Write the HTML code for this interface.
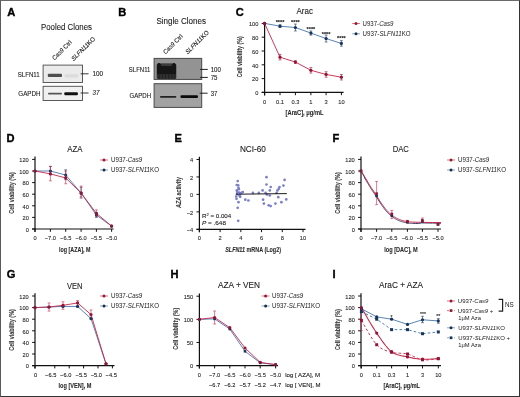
<!DOCTYPE html>
<html><head><meta charset="utf-8"><style>
html,body{margin:0;padding:0;background:#fff;}
body{width:520px;height:397px;overflow:hidden;position:relative;}
.fr{position:absolute;left:0;top:0;width:520px;height:397px;box-sizing:border-box;border-top:1px solid #6a6a6a;border-left:1px solid #5a5a5a;border-right:1px solid #333;border-bottom:1px solid #333;}
svg{position:absolute;left:0;top:0;filter:blur(0.35px);}
.ns{stroke:none !important;}
svg text{font-family:"Liberation Sans", sans-serif;stroke-width:0.1px;}
</style></head><body>
<svg width="520" height="397" viewBox="0 0 520 397">
<text x="0" y="0" font-size="10.3" font-weight="bold" fill="#000" style="stroke:#000;stroke-width:0.35px" transform="translate(7.2 15.7) scale(1.08 1)">A</text>
<text x="66.50" y="30.30" font-size="8.5" text-anchor="middle" textLength="51" lengthAdjust="spacingAndGlyphs" fill="#1a1a1a" stroke="#1a1a1a">Pooled Clones</text>
<text x="54.50" y="60.50" font-size="6.2" textLength="25" lengthAdjust="spacingAndGlyphs" fill="#1a1a1a" stroke="#1a1a1a" transform="rotate(-45 54.50 60.50)"><tspan font-style="italic">Cas9</tspan> Ctrl</text>
<text x="73.70" y="61.20" font-size="6.2" textLength="31" lengthAdjust="spacingAndGlyphs" fill="#1a1a1a" stroke="#1a1a1a" transform="rotate(-45 73.70 61.20)"><tspan font-style="italic">SLFN11</tspan>KO</text>
<rect x="43.10" y="65.10" width="39.40" height="17.40" fill="#ebebeb" stroke="#4a4a4a" stroke-width="0.9"/>
<rect x="47.80" y="73.70" width="14.20" height="3.30" fill="#4e4e4e" stroke="none" stroke-width="1" rx="1"/>
<rect x="64.60" y="74.20" width="13.60" height="3.20" fill="#dcdcdc" stroke="none" stroke-width="1" rx="1"/>
<rect x="43.10" y="86.30" width="39.40" height="14.20" fill="#f0f0f0" stroke="#4a4a4a" stroke-width="0.9"/>
<rect x="48.00" y="92.70" width="14.00" height="1.90" fill="#555" stroke="none" stroke-width="1" rx="0.8"/>
<rect x="64.30" y="92.20" width="13.60" height="3.00" fill="#111" stroke="none" stroke-width="1" rx="1"/>
<text x="39.70" y="77.10" font-size="6.6" text-anchor="end" textLength="22" lengthAdjust="spacingAndGlyphs" fill="#1a1a1a" stroke="#1a1a1a">SLFN11</text>
<text x="40.50" y="95.60" font-size="6.4" text-anchor="end" textLength="22.2" lengthAdjust="spacingAndGlyphs" fill="#1a1a1a" stroke="#1a1a1a">GAPDH</text>
<line x1="80.60" y1="73.80" x2="88.60" y2="73.80" stroke="#222" stroke-width="0.9"/>
<text x="92.40" y="76.20" font-size="6.3" textLength="10.6" lengthAdjust="spacingAndGlyphs" fill="#1a1a1a" stroke="#1a1a1a">100</text>
<line x1="80.60" y1="93.00" x2="88.60" y2="93.00" stroke="#222" stroke-width="0.9"/>
<text x="92.60" y="95.40" font-size="6.3" textLength="7" lengthAdjust="spacingAndGlyphs" font-style="italic" fill="#1a1a1a" stroke="#1a1a1a">37</text>
<text x="0" y="0" font-size="10.3" font-weight="bold" fill="#000" style="stroke:#000;stroke-width:0.35px" transform="translate(118.2 15.7) scale(1.08 1)">B</text>
<text x="181.20" y="24.00" font-size="8.5" text-anchor="middle" textLength="49.6" lengthAdjust="spacingAndGlyphs" fill="#1a1a1a" stroke="#1a1a1a">Single Clones</text>
<text x="165.50" y="54.50" font-size="6.2" textLength="25" lengthAdjust="spacingAndGlyphs" fill="#1a1a1a" stroke="#1a1a1a" transform="rotate(-45 165.50 54.50)"><tspan font-style="italic">Cas9</tspan> Ctrl</text>
<text x="187.70" y="54.60" font-size="6.2" textLength="30.8" lengthAdjust="spacingAndGlyphs" fill="#1a1a1a" stroke="#1a1a1a" transform="rotate(-45 187.70 54.60)"><tspan font-style="italic">SLFN11</tspan>KO</text>
<rect x="154.10" y="58.40" width="47.60" height="21.00" fill="#939393" stroke="#4a4a4a" stroke-width="1.0"/>
<defs><filter id="fb" x="-20%" y="-20%" width="140%" height="140%"><feGaussianBlur stdDeviation="0.7"/></filter></defs>
<g filter="url(#fb)">
<rect x="156.70" y="63.40" width="19.60" height="15.60" fill="#333" stroke="none" stroke-width="1" rx="1.5"/>
<rect x="157.00" y="66.00" width="19.00" height="8.20" fill="#161616" stroke="none" stroke-width="1"/>
<ellipse cx="159.1" cy="67" rx="2.1" ry="3.9" fill="#161616"/>
<ellipse cx="173.9" cy="67" rx="2.1" ry="3.9" fill="#161616"/>
<rect x="161.40" y="63.70" width="10.20" height="2.30" fill="#3a3a3a" stroke="none" stroke-width="1"/>
<line x1="159.20" y1="74.50" x2="159.20" y2="78.80" stroke="#1c1c1c" stroke-width="0.9"/>
<line x1="162.40" y1="74.50" x2="162.40" y2="78.80" stroke="#1c1c1c" stroke-width="0.9"/>
<line x1="165.60" y1="74.50" x2="165.60" y2="78.80" stroke="#1c1c1c" stroke-width="0.9"/>
<line x1="168.80" y1="74.50" x2="168.80" y2="78.80" stroke="#1c1c1c" stroke-width="0.9"/>
<line x1="172.00" y1="74.50" x2="172.00" y2="78.80" stroke="#1c1c1c" stroke-width="0.9"/>
<line x1="174.80" y1="74.50" x2="174.80" y2="78.80" stroke="#1c1c1c" stroke-width="0.9"/>
</g>
<rect x="154.10" y="83.70" width="47.60" height="23.70" fill="#a2a2a2" stroke="#4a4a4a" stroke-width="1.0"/>
<rect x="160.00" y="96.10" width="16.30" height="1.60" fill="#222" stroke="none" stroke-width="1" rx="0.7"/>
<rect x="180.40" y="95.20" width="17.60" height="2.80" fill="#0a0a0a" stroke="none" stroke-width="1" rx="1.2"/>
<text x="150.40" y="72.20" font-size="6.4" text-anchor="end" textLength="21.6" lengthAdjust="spacingAndGlyphs" fill="#1a1a1a" stroke="#1a1a1a">SLFN11</text>
<text x="151.00" y="98.10" font-size="6.4" text-anchor="end" textLength="21.5" lengthAdjust="spacingAndGlyphs" fill="#1a1a1a" stroke="#1a1a1a">GAPDH</text>
<line x1="200.00" y1="69.40" x2="207.80" y2="69.40" stroke="#222" stroke-width="1.0"/>
<text x="210.70" y="71.80" font-size="6.3" textLength="10.2" lengthAdjust="spacingAndGlyphs" fill="#1a1a1a" stroke="#1a1a1a">100</text>
<line x1="200.00" y1="77.40" x2="207.80" y2="77.40" stroke="#222" stroke-width="1.0"/>
<text x="210.70" y="79.80" font-size="6.3" textLength="6.8" lengthAdjust="spacingAndGlyphs" fill="#1a1a1a" stroke="#1a1a1a">75</text>
<line x1="199.70" y1="93.20" x2="207.60" y2="93.20" stroke="#222" stroke-width="1.0"/>
<text x="210.70" y="95.60" font-size="6.3" textLength="6.6" lengthAdjust="spacingAndGlyphs" fill="#1a1a1a" stroke="#1a1a1a">37</text>
<text x="0" y="0" font-size="10.3" font-weight="bold" fill="#000" style="stroke:#000;stroke-width:0.35px" transform="translate(235.7 15.7) scale(1.08 1)">C</text>
<text x="304.70" y="14.20" font-size="8.5" text-anchor="middle" textLength="16.4" lengthAdjust="spacingAndGlyphs" fill="#1a1a1a" stroke="#1a1a1a">Arac</text>
<line x1="264.60" y1="23.10" x2="264.60" y2="95.40" stroke="#111" stroke-width="1.2"/>
<line x1="261.70" y1="92.40" x2="264.60" y2="92.40" stroke="#111" stroke-width="1.0"/>
<text x="258.40" y="95.10" font-size="5.7" text-anchor="end" fill="#2a2a2a" stroke="#2a2a2a">0</text>
<line x1="261.70" y1="78.60" x2="264.60" y2="78.60" stroke="#111" stroke-width="1.0"/>
<text x="258.40" y="81.30" font-size="5.7" text-anchor="end" fill="#2a2a2a" stroke="#2a2a2a">20</text>
<line x1="261.70" y1="64.80" x2="264.60" y2="64.80" stroke="#111" stroke-width="1.0"/>
<text x="258.40" y="67.50" font-size="5.7" text-anchor="end" fill="#2a2a2a" stroke="#2a2a2a">40</text>
<line x1="261.70" y1="51.00" x2="264.60" y2="51.00" stroke="#111" stroke-width="1.0"/>
<text x="258.40" y="53.70" font-size="5.7" text-anchor="end" fill="#2a2a2a" stroke="#2a2a2a">60</text>
<line x1="261.70" y1="37.20" x2="264.60" y2="37.20" stroke="#111" stroke-width="1.0"/>
<text x="258.40" y="39.90" font-size="5.7" text-anchor="end" fill="#2a2a2a" stroke="#2a2a2a">80</text>
<line x1="261.70" y1="23.40" x2="264.60" y2="23.40" stroke="#111" stroke-width="1.0"/>
<text x="258.40" y="26.10" font-size="5.7" text-anchor="end" fill="#2a2a2a" stroke="#2a2a2a">100</text>
<line x1="261.70" y1="92.40" x2="343.60" y2="92.40" stroke="#111" stroke-width="1.2"/>
<line x1="264.60" y1="92.40" x2="264.60" y2="95.20" stroke="#111" stroke-width="1.0"/>
<line x1="280.00" y1="92.40" x2="280.00" y2="95.20" stroke="#111" stroke-width="1.0"/>
<line x1="295.40" y1="92.40" x2="295.40" y2="95.20" stroke="#111" stroke-width="1.0"/>
<line x1="310.90" y1="92.40" x2="310.90" y2="95.20" stroke="#111" stroke-width="1.0"/>
<line x1="326.10" y1="92.40" x2="326.10" y2="95.20" stroke="#111" stroke-width="1.0"/>
<line x1="341.40" y1="92.40" x2="341.40" y2="95.20" stroke="#111" stroke-width="1.0"/>
<text x="264.60" y="103.80" font-size="5.7" text-anchor="middle" fill="#2a2a2a" stroke="#2a2a2a">0</text>
<text x="280.00" y="103.80" font-size="5.7" text-anchor="middle" fill="#2a2a2a" stroke="#2a2a2a">0.1</text>
<text x="295.40" y="103.80" font-size="5.7" text-anchor="middle" fill="#2a2a2a" stroke="#2a2a2a">0.3</text>
<text x="310.90" y="103.80" font-size="5.7" text-anchor="middle" fill="#2a2a2a" stroke="#2a2a2a">1</text>
<text x="326.10" y="103.80" font-size="5.7" text-anchor="middle" fill="#2a2a2a" stroke="#2a2a2a">3</text>
<text x="341.40" y="103.80" font-size="5.7" text-anchor="middle" fill="#2a2a2a" stroke="#2a2a2a">10</text>
<text x="285.60" y="114.60" font-size="7.0" textLength="37.9" lengthAdjust="spacingAndGlyphs" font-weight="bold" fill="#2a2a2a" stroke="#2a2a2a">[AraC], μg/mL</text>
<text x="242.00" y="56.80" font-size="7.4" text-anchor="middle" textLength="41" lengthAdjust="spacingAndGlyphs" font-weight="bold" fill="#3a3a3a" stroke="#3a3a3a" transform="rotate(-90 242.00 56.80)">Cell viability (%)</text>
<polyline points="264.60,23.40 280.00,26.16 295.40,27.54 310.90,33.06 326.10,38.58 341.40,43.41" fill="none" stroke="#4676ab" stroke-width="0.9"/>
<polyline points="264.60,23.40 280.00,57.21 295.40,62.04 310.90,70.32 326.10,74.46 341.40,77.22" fill="none" stroke="#c5264a" stroke-width="0.9"/>
<circle cx="264.60" cy="23.40" r="1.6" fill="#18355c"/>
<line x1="280.00" y1="24.78" x2="280.00" y2="27.54" stroke="#18355c" stroke-width="0.6"/>
<line x1="278.60" y1="24.78" x2="281.40" y2="24.78" stroke="#18355c" stroke-width="0.6"/>
<line x1="278.60" y1="27.54" x2="281.40" y2="27.54" stroke="#18355c" stroke-width="0.6"/>
<circle cx="280.00" cy="26.16" r="1.6" fill="#18355c"/>
<line x1="295.40" y1="24.09" x2="295.40" y2="30.99" stroke="#18355c" stroke-width="0.6"/>
<line x1="294.00" y1="24.09" x2="296.80" y2="24.09" stroke="#18355c" stroke-width="0.6"/>
<line x1="294.00" y1="30.99" x2="296.80" y2="30.99" stroke="#18355c" stroke-width="0.6"/>
<circle cx="295.40" cy="27.54" r="1.6" fill="#18355c"/>
<line x1="310.90" y1="30.99" x2="310.90" y2="35.13" stroke="#18355c" stroke-width="0.6"/>
<line x1="309.50" y1="30.99" x2="312.30" y2="30.99" stroke="#18355c" stroke-width="0.6"/>
<line x1="309.50" y1="35.13" x2="312.30" y2="35.13" stroke="#18355c" stroke-width="0.6"/>
<circle cx="310.90" cy="33.06" r="1.6" fill="#18355c"/>
<line x1="326.10" y1="35.13" x2="326.10" y2="42.03" stroke="#18355c" stroke-width="0.6"/>
<line x1="324.70" y1="35.13" x2="327.50" y2="35.13" stroke="#18355c" stroke-width="0.6"/>
<line x1="324.70" y1="42.03" x2="327.50" y2="42.03" stroke="#18355c" stroke-width="0.6"/>
<circle cx="326.10" cy="38.58" r="1.6" fill="#18355c"/>
<line x1="341.40" y1="40.65" x2="341.40" y2="46.17" stroke="#18355c" stroke-width="0.6"/>
<line x1="340.00" y1="40.65" x2="342.80" y2="40.65" stroke="#18355c" stroke-width="0.6"/>
<line x1="340.00" y1="46.17" x2="342.80" y2="46.17" stroke="#18355c" stroke-width="0.6"/>
<circle cx="341.40" cy="43.41" r="1.6" fill="#18355c"/>
<circle cx="264.60" cy="23.40" r="1.6" fill="#931436"/>
<line x1="280.00" y1="54.45" x2="280.00" y2="59.97" stroke="#931436" stroke-width="0.6"/>
<line x1="278.60" y1="54.45" x2="281.40" y2="54.45" stroke="#931436" stroke-width="0.6"/>
<line x1="278.60" y1="59.97" x2="281.40" y2="59.97" stroke="#931436" stroke-width="0.6"/>
<circle cx="280.00" cy="57.21" r="1.6" fill="#931436"/>
<line x1="295.40" y1="60.66" x2="295.40" y2="63.42" stroke="#931436" stroke-width="0.6"/>
<line x1="294.00" y1="60.66" x2="296.80" y2="60.66" stroke="#931436" stroke-width="0.6"/>
<line x1="294.00" y1="63.42" x2="296.80" y2="63.42" stroke="#931436" stroke-width="0.6"/>
<circle cx="295.40" cy="62.04" r="1.6" fill="#931436"/>
<line x1="310.90" y1="67.56" x2="310.90" y2="73.08" stroke="#931436" stroke-width="0.6"/>
<line x1="309.50" y1="67.56" x2="312.30" y2="67.56" stroke="#931436" stroke-width="0.6"/>
<line x1="309.50" y1="73.08" x2="312.30" y2="73.08" stroke="#931436" stroke-width="0.6"/>
<circle cx="310.90" cy="70.32" r="1.6" fill="#931436"/>
<line x1="326.10" y1="71.70" x2="326.10" y2="77.22" stroke="#931436" stroke-width="0.6"/>
<line x1="324.70" y1="71.70" x2="327.50" y2="71.70" stroke="#931436" stroke-width="0.6"/>
<line x1="324.70" y1="77.22" x2="327.50" y2="77.22" stroke="#931436" stroke-width="0.6"/>
<circle cx="326.10" cy="74.46" r="1.6" fill="#931436"/>
<line x1="341.40" y1="74.46" x2="341.40" y2="79.98" stroke="#931436" stroke-width="0.6"/>
<line x1="340.00" y1="74.46" x2="342.80" y2="74.46" stroke="#931436" stroke-width="0.6"/>
<line x1="340.00" y1="79.98" x2="342.80" y2="79.98" stroke="#931436" stroke-width="0.6"/>
<circle cx="341.40" cy="77.22" r="1.6" fill="#931436"/>
<text x="280.00" y="24.30" font-size="5.6" text-anchor="middle" textLength="8.6" lengthAdjust="spacingAndGlyphs" font-weight="bold" fill="#1a1a1a" stroke="#1a1a1a">****</text>
<text x="295.40" y="24.00" font-size="5.6" text-anchor="middle" textLength="8.6" lengthAdjust="spacingAndGlyphs" font-weight="bold" fill="#1a1a1a" stroke="#1a1a1a">****</text>
<text x="310.90" y="30.50" font-size="5.6" text-anchor="middle" textLength="8.6" lengthAdjust="spacingAndGlyphs" font-weight="bold" fill="#1a1a1a" stroke="#1a1a1a">****</text>
<text x="326.10" y="35.60" font-size="5.6" text-anchor="middle" textLength="8.6" lengthAdjust="spacingAndGlyphs" font-weight="bold" fill="#1a1a1a" stroke="#1a1a1a">****</text>
<text x="341.40" y="40.40" font-size="5.6" text-anchor="middle" textLength="8.6" lengthAdjust="spacingAndGlyphs" font-weight="bold" fill="#1a1a1a" stroke="#1a1a1a">****</text>
<line x1="352.20" y1="23.50" x2="360.00" y2="23.50" stroke="#d8687c" stroke-width="0.9"/>
<circle cx="356.00" cy="23.50" r="1.5" fill="#9a1834"/>
<text x="362.60" y="26.00" font-size="6.3" textLength="30.7" lengthAdjust="spacingAndGlyphs" fill="#1a1a1a" stroke="#1a1a1a" class="ns">U937-<tspan font-style="italic">Cas9</tspan></text>
<line x1="352.20" y1="33.80" x2="360.00" y2="33.80" stroke="#7d98b8" stroke-width="0.9"/>
<circle cx="356.00" cy="33.80" r="1.5" fill="#16304f"/>
<text x="362.60" y="36.00" font-size="6.3" textLength="48" lengthAdjust="spacingAndGlyphs" fill="#1a1a1a" stroke="#1a1a1a" class="ns">U937-<tspan font-style="italic">SLFN11</tspan>KO</text>
<text x="0" y="0" font-size="10.3" font-weight="bold" fill="#000" style="stroke:#000;stroke-width:0.35px" transform="translate(6.5 141.6) scale(1.08 1)">D</text>
<text x="74.80" y="151.80" font-size="8.5" text-anchor="middle" textLength="15.2" lengthAdjust="spacingAndGlyphs" fill="#1a1a1a" stroke="#1a1a1a">AZA</text>
<line x1="35.00" y1="156.60" x2="35.00" y2="232.00" stroke="#111" stroke-width="1.2"/>
<line x1="32.10" y1="229.00" x2="35.00" y2="229.00" stroke="#111" stroke-width="1.0"/>
<text x="28.80" y="231.70" font-size="5.7" text-anchor="end" fill="#2a2a2a" stroke="#2a2a2a">0</text>
<line x1="32.10" y1="217.40" x2="35.00" y2="217.40" stroke="#111" stroke-width="1.0"/>
<text x="28.80" y="220.10" font-size="5.7" text-anchor="end" fill="#2a2a2a" stroke="#2a2a2a">20</text>
<line x1="32.10" y1="205.80" x2="35.00" y2="205.80" stroke="#111" stroke-width="1.0"/>
<text x="28.80" y="208.50" font-size="5.7" text-anchor="end" fill="#2a2a2a" stroke="#2a2a2a">40</text>
<line x1="32.10" y1="194.20" x2="35.00" y2="194.20" stroke="#111" stroke-width="1.0"/>
<text x="28.80" y="196.90" font-size="5.7" text-anchor="end" fill="#2a2a2a" stroke="#2a2a2a">60</text>
<line x1="32.10" y1="182.60" x2="35.00" y2="182.60" stroke="#111" stroke-width="1.0"/>
<text x="28.80" y="185.30" font-size="5.7" text-anchor="end" fill="#2a2a2a" stroke="#2a2a2a">80</text>
<line x1="32.10" y1="171.00" x2="35.00" y2="171.00" stroke="#111" stroke-width="1.0"/>
<text x="28.80" y="173.70" font-size="5.7" text-anchor="end" fill="#2a2a2a" stroke="#2a2a2a">100</text>
<line x1="32.10" y1="159.40" x2="35.00" y2="159.40" stroke="#111" stroke-width="1.0"/>
<text x="28.80" y="162.10" font-size="5.7" text-anchor="end" fill="#2a2a2a" stroke="#2a2a2a">120</text>
<line x1="32.10" y1="229.00" x2="113.60" y2="229.00" stroke="#111" stroke-width="1.2"/>
<line x1="35.00" y1="229.00" x2="35.00" y2="231.80" stroke="#111" stroke-width="1.0"/>
<line x1="50.40" y1="229.00" x2="50.40" y2="231.80" stroke="#111" stroke-width="1.0"/>
<line x1="65.70" y1="229.00" x2="65.70" y2="231.80" stroke="#111" stroke-width="1.0"/>
<line x1="81.10" y1="229.00" x2="81.10" y2="231.80" stroke="#111" stroke-width="1.0"/>
<line x1="96.40" y1="229.00" x2="96.40" y2="231.80" stroke="#111" stroke-width="1.0"/>
<line x1="111.60" y1="229.00" x2="111.60" y2="231.80" stroke="#111" stroke-width="1.0"/>
<text x="35.00" y="240.20" font-size="5.7" text-anchor="middle" fill="#2a2a2a" stroke="#2a2a2a">0</text>
<text x="50.40" y="240.20" font-size="5.7" text-anchor="middle" fill="#2a2a2a" stroke="#2a2a2a">−7.0</text>
<text x="65.70" y="240.20" font-size="5.7" text-anchor="middle" fill="#2a2a2a" stroke="#2a2a2a">−6.5</text>
<text x="81.10" y="240.20" font-size="5.7" text-anchor="middle" fill="#2a2a2a" stroke="#2a2a2a">−6.0</text>
<text x="96.40" y="240.20" font-size="5.7" text-anchor="middle" fill="#2a2a2a" stroke="#2a2a2a">−5.5</text>
<text x="111.60" y="240.20" font-size="5.7" text-anchor="middle" fill="#2a2a2a" stroke="#2a2a2a">−5.0</text>
<text x="59.00" y="251.50" font-size="7.6" textLength="31.5" lengthAdjust="spacingAndGlyphs" font-weight="bold" fill="#2a2a2a" stroke="#2a2a2a">log [AZA], M</text>
<text x="13.70" y="193.00" font-size="7.4" text-anchor="middle" textLength="41.5" lengthAdjust="spacingAndGlyphs" font-weight="bold" fill="#3a3a3a" stroke="#3a3a3a" transform="rotate(-90 13.70 193.00)">Cell viability (%)</text>
<polyline points="35.00,171.00 50.40,171.00 65.70,175.06 81.10,193.04 96.40,215.08 111.60,226.10" fill="none" stroke="#4676ab" stroke-width="0.9"/>
<polyline points="35.00,171.00 50.40,173.90 65.70,177.96 81.10,193.04 96.40,213.34 111.60,226.10" fill="none" stroke="#c5264a" stroke-width="0.9"/>
<circle cx="35.00" cy="171.00" r="1.6" fill="#18355c"/>
<line x1="50.40" y1="166.36" x2="50.40" y2="173.90" stroke="#18355c" stroke-width="0.6"/>
<line x1="49.00" y1="166.36" x2="51.80" y2="166.36" stroke="#18355c" stroke-width="0.6"/>
<line x1="49.00" y1="173.90" x2="51.80" y2="173.90" stroke="#18355c" stroke-width="0.6"/>
<circle cx="50.40" cy="171.00" r="1.6" fill="#18355c"/>
<line x1="65.70" y1="169.84" x2="65.70" y2="179.70" stroke="#18355c" stroke-width="0.6"/>
<line x1="64.30" y1="169.84" x2="67.10" y2="169.84" stroke="#18355c" stroke-width="0.6"/>
<line x1="64.30" y1="179.70" x2="67.10" y2="179.70" stroke="#18355c" stroke-width="0.6"/>
<circle cx="65.70" cy="175.06" r="1.6" fill="#18355c"/>
<line x1="81.10" y1="187.24" x2="81.10" y2="197.10" stroke="#18355c" stroke-width="0.6"/>
<line x1="79.70" y1="187.24" x2="82.50" y2="187.24" stroke="#18355c" stroke-width="0.6"/>
<line x1="79.70" y1="197.10" x2="82.50" y2="197.10" stroke="#18355c" stroke-width="0.6"/>
<circle cx="81.10" cy="193.04" r="1.6" fill="#18355c"/>
<line x1="96.40" y1="212.76" x2="96.40" y2="217.40" stroke="#18355c" stroke-width="0.6"/>
<line x1="95.00" y1="212.76" x2="97.80" y2="212.76" stroke="#18355c" stroke-width="0.6"/>
<line x1="95.00" y1="217.40" x2="97.80" y2="217.40" stroke="#18355c" stroke-width="0.6"/>
<circle cx="96.40" cy="215.08" r="1.6" fill="#18355c"/>
<circle cx="111.60" cy="226.10" r="1.6" fill="#18355c"/>
<circle cx="35.00" cy="171.00" r="1.6" fill="#931436"/>
<line x1="50.40" y1="166.36" x2="50.40" y2="180.86" stroke="#c5264a" stroke-width="0.6"/>
<line x1="49.00" y1="166.36" x2="51.80" y2="166.36" stroke="#c5264a" stroke-width="0.6"/>
<line x1="49.00" y1="180.86" x2="51.80" y2="180.86" stroke="#c5264a" stroke-width="0.6"/>
<circle cx="50.40" cy="173.90" r="1.6" fill="#931436"/>
<line x1="65.70" y1="171.00" x2="65.70" y2="183.76" stroke="#c5264a" stroke-width="0.6"/>
<line x1="64.30" y1="171.00" x2="67.10" y2="171.00" stroke="#c5264a" stroke-width="0.6"/>
<line x1="64.30" y1="183.76" x2="67.10" y2="183.76" stroke="#c5264a" stroke-width="0.6"/>
<circle cx="65.70" cy="177.96" r="1.6" fill="#931436"/>
<line x1="81.10" y1="186.08" x2="81.10" y2="198.26" stroke="#c5264a" stroke-width="0.6"/>
<line x1="79.70" y1="186.08" x2="82.50" y2="186.08" stroke="#c5264a" stroke-width="0.6"/>
<line x1="79.70" y1="198.26" x2="82.50" y2="198.26" stroke="#c5264a" stroke-width="0.6"/>
<circle cx="81.10" cy="193.04" r="1.6" fill="#931436"/>
<line x1="96.40" y1="209.86" x2="96.40" y2="216.24" stroke="#c5264a" stroke-width="0.6"/>
<line x1="95.00" y1="209.86" x2="97.80" y2="209.86" stroke="#c5264a" stroke-width="0.6"/>
<line x1="95.00" y1="216.24" x2="97.80" y2="216.24" stroke="#c5264a" stroke-width="0.6"/>
<circle cx="96.40" cy="213.34" r="1.6" fill="#931436"/>
<circle cx="111.60" cy="226.10" r="1.6" fill="#931436"/>
<line x1="100.00" y1="160.00" x2="108.00" y2="160.00" stroke="#d8687c" stroke-width="0.9"/>
<circle cx="104.00" cy="160.00" r="1.5" fill="#9a1834"/>
<text x="111.00" y="162.20" font-size="6.4" textLength="31.3" lengthAdjust="spacingAndGlyphs" fill="#1a1a1a" stroke="#1a1a1a" class="ns">U937-<tspan font-style="italic">Cas9</tspan></text>
<line x1="100.00" y1="170.00" x2="108.00" y2="170.00" stroke="#7d98b8" stroke-width="0.9"/>
<circle cx="104.00" cy="170.00" r="1.5" fill="#16304f"/>
<text x="111.00" y="172.20" font-size="6.4" textLength="48" lengthAdjust="spacingAndGlyphs" fill="#1a1a1a" stroke="#1a1a1a" class="ns">U937-<tspan font-style="italic">SLFN11</tspan>KO</text>
<text x="0" y="0" font-size="10.3" font-weight="bold" fill="#000" style="stroke:#000;stroke-width:0.35px" transform="translate(174.4 141.6) scale(1.08 1)">E</text>
<text x="252.90" y="152.00" font-size="8.5" text-anchor="middle" textLength="26" lengthAdjust="spacingAndGlyphs" fill="#1a1a1a" stroke="#1a1a1a">NCI-60</text>
<line x1="199.40" y1="156.68" x2="199.40" y2="232.32" stroke="#111" stroke-width="1.2"/>
<line x1="196.50" y1="159.48" x2="199.40" y2="159.48" stroke="#111" stroke-width="1.0"/>
<text x="193.20" y="162.18" font-size="5.7" text-anchor="end" fill="#2a2a2a" stroke="#2a2a2a">4</text>
<line x1="196.50" y1="176.94" x2="199.40" y2="176.94" stroke="#111" stroke-width="1.0"/>
<text x="193.20" y="179.64" font-size="5.7" text-anchor="end" fill="#2a2a2a" stroke="#2a2a2a">2</text>
<line x1="196.50" y1="194.40" x2="199.40" y2="194.40" stroke="#111" stroke-width="1.0"/>
<text x="193.20" y="197.10" font-size="5.7" text-anchor="end" fill="#2a2a2a" stroke="#2a2a2a">0</text>
<line x1="196.50" y1="211.86" x2="199.40" y2="211.86" stroke="#111" stroke-width="1.0"/>
<text x="193.20" y="214.56" font-size="5.7" text-anchor="end" fill="#2a2a2a" stroke="#2a2a2a">−2</text>
<line x1="196.50" y1="229.32" x2="199.40" y2="229.32" stroke="#111" stroke-width="1.0"/>
<text x="193.20" y="232.02" font-size="5.7" text-anchor="end" fill="#2a2a2a" stroke="#2a2a2a">−4</text>
<line x1="196.50" y1="229.32" x2="305.50" y2="229.32" stroke="#111" stroke-width="1.2"/>
<line x1="199.40" y1="229.32" x2="199.40" y2="232.12" stroke="#111" stroke-width="1.0"/>
<line x1="220.12" y1="229.32" x2="220.12" y2="232.12" stroke="#111" stroke-width="1.0"/>
<line x1="240.84" y1="229.32" x2="240.84" y2="232.12" stroke="#111" stroke-width="1.0"/>
<line x1="261.56" y1="229.32" x2="261.56" y2="232.12" stroke="#111" stroke-width="1.0"/>
<line x1="282.28" y1="229.32" x2="282.28" y2="232.12" stroke="#111" stroke-width="1.0"/>
<line x1="303.00" y1="229.32" x2="303.00" y2="232.12" stroke="#111" stroke-width="1.0"/>
<text x="199.40" y="240.20" font-size="5.7" text-anchor="middle" fill="#2a2a2a" stroke="#2a2a2a">0</text>
<text x="220.12" y="240.20" font-size="5.7" text-anchor="middle" fill="#2a2a2a" stroke="#2a2a2a">2</text>
<text x="240.84" y="240.20" font-size="5.7" text-anchor="middle" fill="#2a2a2a" stroke="#2a2a2a">4</text>
<text x="261.56" y="240.20" font-size="5.7" text-anchor="middle" fill="#2a2a2a" stroke="#2a2a2a">6</text>
<text x="282.28" y="240.20" font-size="5.7" text-anchor="middle" fill="#2a2a2a" stroke="#2a2a2a">8</text>
<text x="303.00" y="240.20" font-size="5.7" text-anchor="middle" fill="#2a2a2a" stroke="#2a2a2a">10</text>
<text x="225.20" y="251.50" font-size="7.6" textLength="55.8" lengthAdjust="spacingAndGlyphs" font-weight="bold" fill="#2a2a2a" stroke="#2a2a2a"><tspan font-style="italic">SLFN11</tspan> mRNA (Log2)</text>
<text x="181.50" y="192.40" font-size="7.4" text-anchor="middle" textLength="31" lengthAdjust="spacingAndGlyphs" font-weight="bold" fill="#3a3a3a" stroke="#3a3a3a" transform="rotate(-90 181.50 192.40)"><tspan font-style="italic">AZA</tspan> activity</text>
<circle cx="237.70" cy="181.10" r="1.35" fill="#7c80c8"/>
<circle cx="236.80" cy="185.00" r="1.35" fill="#7c80c8"/>
<circle cx="238.20" cy="185.30" r="1.35" fill="#7c80c8"/>
<circle cx="238.50" cy="187.80" r="1.35" fill="#7c80c8"/>
<circle cx="236.80" cy="190.40" r="1.35" fill="#7c80c8"/>
<circle cx="237.20" cy="192.00" r="1.35" fill="#7c80c8"/>
<circle cx="239.00" cy="192.50" r="1.35" fill="#7c80c8"/>
<circle cx="240.50" cy="193.50" r="1.35" fill="#7c80c8"/>
<circle cx="237.00" cy="194.20" r="1.35" fill="#7c80c8"/>
<circle cx="239.50" cy="195.60" r="1.35" fill="#7c80c8"/>
<circle cx="236.50" cy="198.80" r="1.35" fill="#7c80c8"/>
<circle cx="238.50" cy="202.20" r="1.35" fill="#7c80c8"/>
<circle cx="237.70" cy="207.80" r="1.35" fill="#7c80c8"/>
<circle cx="238.20" cy="220.80" r="1.35" fill="#7c80c8"/>
<circle cx="242.80" cy="192.00" r="1.35" fill="#7c80c8"/>
<circle cx="245.30" cy="199.70" r="1.35" fill="#7c80c8"/>
<circle cx="248.40" cy="200.50" r="1.35" fill="#7c80c8"/>
<circle cx="252.90" cy="192.90" r="1.35" fill="#7c80c8"/>
<circle cx="258.80" cy="192.90" r="1.35" fill="#7c80c8"/>
<circle cx="262.60" cy="190.40" r="1.35" fill="#7c80c8"/>
<circle cx="263.10" cy="199.70" r="1.35" fill="#7c80c8"/>
<circle cx="263.90" cy="203.60" r="1.35" fill="#7c80c8"/>
<circle cx="266.50" cy="177.20" r="1.35" fill="#7c80c8"/>
<circle cx="266.50" cy="184.50" r="1.35" fill="#7c80c8"/>
<circle cx="265.60" cy="192.90" r="1.35" fill="#7c80c8"/>
<circle cx="267.00" cy="194.60" r="1.35" fill="#7c80c8"/>
<circle cx="268.70" cy="205.30" r="1.35" fill="#7c80c8"/>
<circle cx="270.70" cy="206.10" r="1.35" fill="#7c80c8"/>
<circle cx="269.80" cy="190.40" r="1.35" fill="#7c80c8"/>
<circle cx="270.70" cy="187.00" r="1.35" fill="#7c80c8"/>
<circle cx="269.80" cy="195.50" r="1.35" fill="#7c80c8"/>
<circle cx="275.40" cy="203.60" r="1.35" fill="#7c80c8"/>
<circle cx="276.60" cy="192.90" r="1.35" fill="#7c80c8"/>
<circle cx="277.50" cy="190.40" r="1.35" fill="#7c80c8"/>
<circle cx="278.80" cy="188.70" r="1.35" fill="#7c80c8"/>
<circle cx="279.50" cy="187.00" r="1.35" fill="#7c80c8"/>
<circle cx="278.30" cy="197.20" r="1.35" fill="#7c80c8"/>
<circle cx="281.40" cy="202.20" r="1.35" fill="#7c80c8"/>
<circle cx="283.40" cy="185.60" r="1.35" fill="#7c80c8"/>
<circle cx="284.60" cy="179.90" r="1.35" fill="#7c80c8"/>
<circle cx="286.30" cy="199.40" r="1.35" fill="#7c80c8"/>
<circle cx="236.20" cy="196.50" r="1.35" fill="#7c80c8"/>
<circle cx="238.80" cy="189.20" r="1.35" fill="#7c80c8"/>
<circle cx="240.20" cy="196.80" r="1.35" fill="#7c80c8"/>
<circle cx="241.50" cy="192.80" r="1.35" fill="#7c80c8"/>
<line x1="236.00" y1="194.20" x2="286.80" y2="193.60" stroke="#1a1a1a" stroke-width="1.0"/>
<text x="202.00" y="218.20" font-size="6.2" fill="#1a1a1a" stroke="#1a1a1a">R<tspan font-size="4" dy="-2.2">2</tspan><tspan dy="2.2"> = 0.004</tspan></text>
<text x="202.00" y="225.30" font-size="6.2" textLength="24" lengthAdjust="spacingAndGlyphs" fill="#1a1a1a" stroke="#1a1a1a"><tspan font-style="italic">P</tspan> = .648</text>
<text x="0" y="0" font-size="10.3" font-weight="bold" fill="#000" style="stroke:#000;stroke-width:0.35px" transform="translate(332.5 141.6) scale(1.08 1)">F</text>
<text x="400.80" y="151.90" font-size="8.5" text-anchor="middle" textLength="16.2" lengthAdjust="spacingAndGlyphs" fill="#1a1a1a" stroke="#1a1a1a">DAC</text>
<line x1="361.00" y1="156.60" x2="361.00" y2="232.00" stroke="#111" stroke-width="1.2"/>
<line x1="358.10" y1="229.00" x2="361.00" y2="229.00" stroke="#111" stroke-width="1.0"/>
<text x="354.80" y="231.70" font-size="5.7" text-anchor="end" fill="#2a2a2a" stroke="#2a2a2a">0</text>
<line x1="358.10" y1="217.40" x2="361.00" y2="217.40" stroke="#111" stroke-width="1.0"/>
<text x="354.80" y="220.10" font-size="5.7" text-anchor="end" fill="#2a2a2a" stroke="#2a2a2a">20</text>
<line x1="358.10" y1="205.80" x2="361.00" y2="205.80" stroke="#111" stroke-width="1.0"/>
<text x="354.80" y="208.50" font-size="5.7" text-anchor="end" fill="#2a2a2a" stroke="#2a2a2a">40</text>
<line x1="358.10" y1="194.20" x2="361.00" y2="194.20" stroke="#111" stroke-width="1.0"/>
<text x="354.80" y="196.90" font-size="5.7" text-anchor="end" fill="#2a2a2a" stroke="#2a2a2a">60</text>
<line x1="358.10" y1="182.60" x2="361.00" y2="182.60" stroke="#111" stroke-width="1.0"/>
<text x="354.80" y="185.30" font-size="5.7" text-anchor="end" fill="#2a2a2a" stroke="#2a2a2a">80</text>
<line x1="358.10" y1="171.00" x2="361.00" y2="171.00" stroke="#111" stroke-width="1.0"/>
<text x="354.80" y="173.70" font-size="5.7" text-anchor="end" fill="#2a2a2a" stroke="#2a2a2a">100</text>
<line x1="358.10" y1="159.40" x2="361.00" y2="159.40" stroke="#111" stroke-width="1.0"/>
<text x="354.80" y="162.10" font-size="5.7" text-anchor="end" fill="#2a2a2a" stroke="#2a2a2a">120</text>
<line x1="358.10" y1="229.00" x2="441.00" y2="229.00" stroke="#111" stroke-width="1.2"/>
<line x1="361.00" y1="229.00" x2="361.00" y2="231.80" stroke="#111" stroke-width="1.0"/>
<line x1="376.60" y1="229.00" x2="376.60" y2="231.80" stroke="#111" stroke-width="1.0"/>
<line x1="391.80" y1="229.00" x2="391.80" y2="231.80" stroke="#111" stroke-width="1.0"/>
<line x1="407.40" y1="229.00" x2="407.40" y2="231.80" stroke="#111" stroke-width="1.0"/>
<line x1="422.40" y1="229.00" x2="422.40" y2="231.80" stroke="#111" stroke-width="1.0"/>
<line x1="438.00" y1="229.00" x2="438.00" y2="231.80" stroke="#111" stroke-width="1.0"/>
<text x="361.00" y="240.20" font-size="5.7" text-anchor="middle" fill="#2a2a2a" stroke="#2a2a2a">0</text>
<text x="376.60" y="240.20" font-size="5.7" text-anchor="middle" fill="#2a2a2a" stroke="#2a2a2a">−7.0</text>
<text x="391.80" y="240.20" font-size="5.7" text-anchor="middle" fill="#2a2a2a" stroke="#2a2a2a">−6.5</text>
<text x="407.40" y="240.20" font-size="5.7" text-anchor="middle" fill="#2a2a2a" stroke="#2a2a2a">−6.0</text>
<text x="422.40" y="240.20" font-size="5.7" text-anchor="middle" fill="#2a2a2a" stroke="#2a2a2a">−5.5</text>
<text x="438.00" y="240.20" font-size="5.7" text-anchor="middle" fill="#2a2a2a" stroke="#2a2a2a">−5.0</text>
<text x="384.20" y="251.50" font-size="7.6" textLength="33.6" lengthAdjust="spacingAndGlyphs" font-weight="bold" fill="#2a2a2a" stroke="#2a2a2a">log [DAC], M</text>
<text x="339.60" y="193.00" font-size="7.4" text-anchor="middle" textLength="41.5" lengthAdjust="spacingAndGlyphs" font-weight="bold" fill="#3a3a3a" stroke="#3a3a3a" transform="rotate(-90 339.60 193.00)">Cell viability (%)</text>
<polyline points="361.00,171.20 361.39,171.85 361.90,172.71 362.51,173.74 363.19,174.88 363.91,176.09 364.63,178.01 365.34,179.20 366.00,180.30 366.62,181.35 367.25,182.40 367.88,183.46 368.50,184.51 369.12,185.56 369.75,186.59 370.38,187.61 371.00,188.60 371.63,189.56 372.25,190.50 372.88,191.42 373.51,192.33 374.13,193.23 374.76,194.14 375.38,195.06 376.00,196.00 376.62,196.97 377.23,197.97 377.84,198.97 378.45,199.99 379.06,201.00 379.67,201.99 380.28,202.96 380.90,203.90 381.52,204.81 382.14,205.72 382.77,206.61 383.39,207.48 384.02,208.33 384.65,209.15 385.27,209.94 385.90,210.70 386.52,211.42 387.15,212.11 387.77,212.78 388.40,213.41 389.02,214.02 389.65,214.60 390.27,215.16 390.90,215.70 391.53,216.21 392.15,216.69 392.78,217.14 393.41,217.58 394.03,217.98 394.66,218.37 395.28,218.74 395.90,219.10 396.50,219.44 397.09,219.75 397.67,220.04 398.24,220.31 398.84,220.57 399.45,220.82 400.10,221.06 400.80,221.30 401.54,221.54 402.31,221.77 403.11,221.99 403.94,222.20 404.79,222.40 405.67,222.58 406.57,222.75 407.50,222.90 408.35,223.02 409.07,223.12 409.75,223.21 410.49,223.28 411.38,223.33 412.50,223.39 413.94,223.44 415.80,223.50 418.31,223.56 421.50,222.92 425.12,222.98 428.92,223.04 432.65,223.09 436.08,223.13 438.94,223.17 441.00,223.20" fill="none" stroke="#3a3f66" stroke-width="1.0"/>
<polyline points="361.00,170.60 361.39,171.25 361.90,172.11 362.51,173.14 363.19,174.28 363.91,175.49 364.63,176.71 365.34,177.90 366.00,179.00 366.62,180.05 367.25,181.10 367.88,182.16 368.50,183.21 369.12,184.26 369.75,185.29 370.38,186.31 371.00,187.30 371.63,188.26 372.25,189.20 372.88,190.12 373.51,191.03 374.13,191.93 374.76,192.84 375.38,193.76 376.00,194.70 376.62,195.67 377.23,196.67 377.84,197.67 378.45,198.69 379.06,199.70 379.67,200.69 380.28,201.66 380.90,202.60 381.52,203.51 382.14,204.42 382.77,205.31 383.39,206.18 384.02,207.03 384.65,207.85 385.27,208.64 385.90,209.40 386.52,210.12 387.15,210.81 387.77,211.48 388.40,212.11 389.02,212.72 389.65,213.30 390.27,213.86 390.90,214.40 391.53,214.91 392.15,215.39 392.78,215.84 393.41,216.28 394.03,216.68 394.66,217.07 395.28,217.44 395.90,217.80 396.50,218.14 397.09,218.45 397.67,218.74 398.24,219.01 398.84,219.27 399.45,219.52 400.10,219.76 400.80,220.00 401.54,220.24 402.31,220.47 403.11,220.69 403.94,220.90 404.79,221.10 405.67,221.28 406.57,221.45 407.50,221.60 408.35,221.72 409.07,221.82 409.75,221.91 410.49,221.97 411.38,222.03 412.50,222.09 413.94,222.14 415.80,222.20 418.31,222.26 421.50,222.32 425.12,222.38 428.92,222.44 432.65,222.49 436.08,222.53 438.94,222.57 441.00,222.60" fill="none" stroke="#c5264a" stroke-width="1.0"/>
<line x1="376.60" y1="181.44" x2="376.60" y2="204.64" stroke="#c5264a" stroke-width="0.6"/>
<line x1="375.20" y1="181.44" x2="378.00" y2="181.44" stroke="#c5264a" stroke-width="0.6"/>
<line x1="375.20" y1="204.64" x2="378.00" y2="204.64" stroke="#c5264a" stroke-width="0.6"/>
<line x1="391.80" y1="210.44" x2="391.80" y2="218.56" stroke="#c5264a" stroke-width="0.6"/>
<line x1="390.40" y1="210.44" x2="393.20" y2="210.44" stroke="#c5264a" stroke-width="0.6"/>
<line x1="390.40" y1="218.56" x2="393.20" y2="218.56" stroke="#c5264a" stroke-width="0.6"/>
<line x1="407.40" y1="220.30" x2="407.40" y2="223.20" stroke="#c5264a" stroke-width="0.6"/>
<line x1="406.00" y1="220.30" x2="408.80" y2="220.30" stroke="#c5264a" stroke-width="0.6"/>
<line x1="406.00" y1="223.20" x2="408.80" y2="223.20" stroke="#c5264a" stroke-width="0.6"/>
<line x1="422.40" y1="217.98" x2="422.40" y2="222.04" stroke="#c5264a" stroke-width="0.6"/>
<line x1="421.00" y1="217.98" x2="423.80" y2="217.98" stroke="#c5264a" stroke-width="0.6"/>
<line x1="421.00" y1="222.04" x2="423.80" y2="222.04" stroke="#c5264a" stroke-width="0.6"/>
<rect x="359.70" y="169.70" width="2.6" height="2.6" fill="#18355c"/>
<rect x="375.30" y="194.64" width="2.6" height="2.6" fill="#18355c"/>
<rect x="390.50" y="214.36" width="2.6" height="2.6" fill="#18355c"/>
<rect x="406.10" y="220.74" width="2.6" height="2.6" fill="#18355c"/>
<rect x="421.10" y="220.16" width="2.6" height="2.6" fill="#18355c"/>
<rect x="436.70" y="223.06" width="2.6" height="2.6" fill="#18355c"/>
<rect x="359.70" y="169.70" width="2.6" height="2.6" fill="#931436"/>
<rect x="375.30" y="192.32" width="2.6" height="2.6" fill="#931436"/>
<rect x="390.50" y="212.62" width="2.6" height="2.6" fill="#931436"/>
<rect x="406.10" y="220.16" width="2.6" height="2.6" fill="#931436"/>
<rect x="421.10" y="219.00" width="2.6" height="2.6" fill="#931436"/>
<rect x="436.70" y="223.06" width="2.6" height="2.6" fill="#931436"/>
<line x1="447.00" y1="160.00" x2="455.00" y2="160.00" stroke="#d8687c" stroke-width="0.9"/>
<circle cx="451.00" cy="160.00" r="1.5" fill="#9a1834"/>
<text x="458.00" y="162.20" font-size="6.4" textLength="31.3" lengthAdjust="spacingAndGlyphs" fill="#1a1a1a" stroke="#1a1a1a" class="ns">U937-<tspan font-style="italic">Cas9</tspan></text>
<line x1="447.00" y1="170.00" x2="455.00" y2="170.00" stroke="#7d98b8" stroke-width="0.9"/>
<circle cx="451.00" cy="170.00" r="1.5" fill="#16304f"/>
<text x="458.00" y="172.20" font-size="6.4" textLength="48" lengthAdjust="spacingAndGlyphs" fill="#1a1a1a" stroke="#1a1a1a" class="ns">U937-<tspan font-style="italic">SLFN11</tspan>KO</text>
<text x="0" y="0" font-size="10.3" font-weight="bold" fill="#000" style="stroke:#000;stroke-width:0.35px" transform="translate(6.8 277.7) scale(1.08 1)">G</text>
<text x="74.80" y="288.60" font-size="8.5" text-anchor="middle" textLength="15.4" lengthAdjust="spacingAndGlyphs" fill="#1a1a1a" stroke="#1a1a1a">VEN</text>
<line x1="35.00" y1="293.20" x2="35.00" y2="368.60" stroke="#111" stroke-width="1.2"/>
<line x1="32.10" y1="365.60" x2="35.00" y2="365.60" stroke="#111" stroke-width="1.0"/>
<text x="28.80" y="368.30" font-size="5.7" text-anchor="end" fill="#2a2a2a" stroke="#2a2a2a">0</text>
<line x1="32.10" y1="354.00" x2="35.00" y2="354.00" stroke="#111" stroke-width="1.0"/>
<text x="28.80" y="356.70" font-size="5.7" text-anchor="end" fill="#2a2a2a" stroke="#2a2a2a">20</text>
<line x1="32.10" y1="342.40" x2="35.00" y2="342.40" stroke="#111" stroke-width="1.0"/>
<text x="28.80" y="345.10" font-size="5.7" text-anchor="end" fill="#2a2a2a" stroke="#2a2a2a">40</text>
<line x1="32.10" y1="330.80" x2="35.00" y2="330.80" stroke="#111" stroke-width="1.0"/>
<text x="28.80" y="333.50" font-size="5.7" text-anchor="end" fill="#2a2a2a" stroke="#2a2a2a">60</text>
<line x1="32.10" y1="319.20" x2="35.00" y2="319.20" stroke="#111" stroke-width="1.0"/>
<text x="28.80" y="321.90" font-size="5.7" text-anchor="end" fill="#2a2a2a" stroke="#2a2a2a">80</text>
<line x1="32.10" y1="307.60" x2="35.00" y2="307.60" stroke="#111" stroke-width="1.0"/>
<text x="28.80" y="310.30" font-size="5.7" text-anchor="end" fill="#2a2a2a" stroke="#2a2a2a">100</text>
<line x1="32.10" y1="296.00" x2="35.00" y2="296.00" stroke="#111" stroke-width="1.0"/>
<text x="28.80" y="298.70" font-size="5.7" text-anchor="end" fill="#2a2a2a" stroke="#2a2a2a">120</text>
<line x1="32.10" y1="365.60" x2="114.50" y2="365.60" stroke="#111" stroke-width="1.2"/>
<line x1="35.00" y1="365.60" x2="35.00" y2="368.40" stroke="#111" stroke-width="1.0"/>
<line x1="54.80" y1="365.60" x2="54.80" y2="368.40" stroke="#111" stroke-width="1.0"/>
<line x1="69.20" y1="365.60" x2="69.20" y2="368.40" stroke="#111" stroke-width="1.0"/>
<line x1="83.60" y1="365.60" x2="83.60" y2="368.40" stroke="#111" stroke-width="1.0"/>
<line x1="98.00" y1="365.60" x2="98.00" y2="368.40" stroke="#111" stroke-width="1.0"/>
<line x1="112.40" y1="365.60" x2="112.40" y2="368.40" stroke="#111" stroke-width="1.0"/>
<text x="35.50" y="376.60" font-size="5.7" text-anchor="middle" fill="#1a1a1a" stroke="#1a1a1a">0</text>
<text x="50.70" y="376.60" font-size="5.7" text-anchor="middle" fill="#1a1a1a" stroke="#1a1a1a">−6.5</text>
<text x="65.70" y="376.60" font-size="5.7" text-anchor="middle" fill="#1a1a1a" stroke="#1a1a1a">−6.0</text>
<text x="81.20" y="376.60" font-size="5.7" text-anchor="middle" fill="#1a1a1a" stroke="#1a1a1a">−5.5</text>
<text x="96.40" y="376.60" font-size="5.7" text-anchor="middle" fill="#1a1a1a" stroke="#1a1a1a">−5.0</text>
<text x="111.20" y="376.60" font-size="5.7" text-anchor="middle" fill="#1a1a1a" stroke="#1a1a1a">−4.5</text>
<text x="58.50" y="388.00" font-size="7.6" textLength="33" lengthAdjust="spacingAndGlyphs" font-weight="bold" fill="#2a2a2a" stroke="#2a2a2a">log [VEN], M</text>
<text x="13.70" y="330.00" font-size="7.4" text-anchor="middle" textLength="41.5" lengthAdjust="spacingAndGlyphs" font-weight="bold" fill="#3a3a3a" stroke="#3a3a3a" transform="rotate(-90 13.70 330.00)">Cell viability (%)</text>
<polyline points="35.00,307.60 49.00,307.02 63.00,306.44 77.60,306.44 91.00,318.62 106.00,363.86" fill="none" stroke="#4676ab" stroke-width="0.9"/>
<polyline points="35.00,307.60 49.00,307.02 63.00,305.28 77.60,302.96 91.00,314.56 106.00,363.86" fill="none" stroke="#c5264a" stroke-width="0.9"/>
<line x1="49.00" y1="302.96" x2="49.00" y2="311.08" stroke="#c5264a" stroke-width="0.6"/>
<line x1="47.60" y1="302.96" x2="50.40" y2="302.96" stroke="#c5264a" stroke-width="0.6"/>
<line x1="47.60" y1="311.08" x2="50.40" y2="311.08" stroke="#c5264a" stroke-width="0.6"/>
<line x1="63.00" y1="301.80" x2="63.00" y2="309.34" stroke="#c5264a" stroke-width="0.6"/>
<line x1="61.60" y1="301.80" x2="64.40" y2="301.80" stroke="#c5264a" stroke-width="0.6"/>
<line x1="61.60" y1="309.34" x2="64.40" y2="309.34" stroke="#c5264a" stroke-width="0.6"/>
<line x1="77.60" y1="300.64" x2="77.60" y2="307.02" stroke="#c5264a" stroke-width="0.6"/>
<line x1="76.20" y1="300.64" x2="79.00" y2="300.64" stroke="#c5264a" stroke-width="0.6"/>
<line x1="76.20" y1="307.02" x2="79.00" y2="307.02" stroke="#c5264a" stroke-width="0.6"/>
<line x1="91.00" y1="309.92" x2="91.00" y2="319.20" stroke="#c5264a" stroke-width="0.6"/>
<line x1="89.60" y1="309.92" x2="92.40" y2="309.92" stroke="#c5264a" stroke-width="0.6"/>
<line x1="89.60" y1="319.20" x2="92.40" y2="319.20" stroke="#c5264a" stroke-width="0.6"/>
<circle cx="35.00" cy="307.60" r="1.6" fill="#18355c"/>
<circle cx="49.00" cy="307.02" r="1.6" fill="#18355c"/>
<circle cx="63.00" cy="306.44" r="1.6" fill="#18355c"/>
<circle cx="77.60" cy="306.44" r="1.6" fill="#18355c"/>
<circle cx="91.00" cy="318.62" r="1.6" fill="#18355c"/>
<circle cx="106.00" cy="363.86" r="1.6" fill="#18355c"/>
<circle cx="35.00" cy="307.60" r="1.6" fill="#931436"/>
<circle cx="49.00" cy="307.02" r="1.6" fill="#931436"/>
<circle cx="63.00" cy="305.28" r="1.6" fill="#931436"/>
<circle cx="77.60" cy="302.96" r="1.6" fill="#931436"/>
<circle cx="91.00" cy="314.56" r="1.6" fill="#931436"/>
<circle cx="106.00" cy="363.86" r="1.6" fill="#931436"/>
<line x1="100.00" y1="296.00" x2="108.00" y2="296.00" stroke="#d8687c" stroke-width="0.9"/>
<circle cx="104.00" cy="296.00" r="1.5" fill="#9a1834"/>
<text x="111.00" y="298.20" font-size="6.4" textLength="31.3" lengthAdjust="spacingAndGlyphs" fill="#1a1a1a" stroke="#1a1a1a" class="ns">U937-<tspan font-style="italic">Cas9</tspan></text>
<line x1="100.00" y1="306.00" x2="108.00" y2="306.00" stroke="#7d98b8" stroke-width="0.9"/>
<circle cx="104.00" cy="306.00" r="1.5" fill="#16304f"/>
<text x="111.00" y="308.20" font-size="6.4" textLength="48" lengthAdjust="spacingAndGlyphs" fill="#1a1a1a" stroke="#1a1a1a" class="ns">U937-<tspan font-style="italic">SLFN11</tspan>KO</text>
<text x="0" y="0" font-size="10.3" font-weight="bold" fill="#000" style="stroke:#000;stroke-width:0.35px" transform="translate(170.5 277.7) scale(1.08 1)">H</text>
<text x="239.00" y="288.40" font-size="8.5" text-anchor="middle" textLength="42" lengthAdjust="spacingAndGlyphs" fill="#1a1a1a" stroke="#1a1a1a">AZA + VEN</text>
<line x1="199.40" y1="293.41" x2="199.40" y2="368.60" stroke="#111" stroke-width="1.2"/>
<line x1="196.50" y1="365.60" x2="199.40" y2="365.60" stroke="#111" stroke-width="1.0"/>
<text x="193.20" y="368.30" font-size="5.7" text-anchor="end" fill="#2a2a2a" stroke="#2a2a2a">0</text>
<line x1="196.50" y1="342.47" x2="199.40" y2="342.47" stroke="#111" stroke-width="1.0"/>
<text x="193.20" y="345.17" font-size="5.7" text-anchor="end" fill="#2a2a2a" stroke="#2a2a2a">50</text>
<line x1="196.50" y1="319.34" x2="199.40" y2="319.34" stroke="#111" stroke-width="1.0"/>
<text x="193.20" y="322.04" font-size="5.7" text-anchor="end" fill="#2a2a2a" stroke="#2a2a2a">100</text>
<line x1="196.50" y1="296.21" x2="199.40" y2="296.21" stroke="#111" stroke-width="1.0"/>
<text x="193.20" y="298.91" font-size="5.7" text-anchor="end" fill="#2a2a2a" stroke="#2a2a2a">150</text>
<line x1="196.50" y1="365.60" x2="278.00" y2="365.60" stroke="#111" stroke-width="1.2"/>
<line x1="199.40" y1="365.60" x2="199.40" y2="368.40" stroke="#111" stroke-width="1.0"/>
<line x1="214.60" y1="365.60" x2="214.60" y2="368.40" stroke="#111" stroke-width="1.0"/>
<line x1="229.80" y1="365.60" x2="229.80" y2="368.40" stroke="#111" stroke-width="1.0"/>
<line x1="245.00" y1="365.60" x2="245.00" y2="368.40" stroke="#111" stroke-width="1.0"/>
<line x1="260.20" y1="365.60" x2="260.20" y2="368.40" stroke="#111" stroke-width="1.0"/>
<line x1="275.60" y1="365.60" x2="275.60" y2="368.40" stroke="#111" stroke-width="1.0"/>
<text x="199.40" y="376.80" font-size="5.7" text-anchor="middle" fill="#2a2a2a" stroke="#2a2a2a">0</text>
<text x="214.60" y="376.80" font-size="5.7" text-anchor="middle" fill="#2a2a2a" stroke="#2a2a2a">−7.0</text>
<text x="229.80" y="376.80" font-size="5.7" text-anchor="middle" fill="#2a2a2a" stroke="#2a2a2a">−6.5</text>
<text x="245.00" y="376.80" font-size="5.7" text-anchor="middle" fill="#2a2a2a" stroke="#2a2a2a">−6.0</text>
<text x="260.20" y="376.80" font-size="5.7" text-anchor="middle" fill="#2a2a2a" stroke="#2a2a2a">−5.5</text>
<text x="275.60" y="376.80" font-size="5.7" text-anchor="middle" fill="#2a2a2a" stroke="#2a2a2a">−5.0</text>
<text x="214.60" y="386.90" font-size="5.7" text-anchor="middle" fill="#1a1a1a" stroke="#1a1a1a">−6.7</text>
<text x="229.80" y="386.90" font-size="5.7" text-anchor="middle" fill="#1a1a1a" stroke="#1a1a1a">−6.2</text>
<text x="245.00" y="386.90" font-size="5.7" text-anchor="middle" fill="#1a1a1a" stroke="#1a1a1a">−5.7</text>
<text x="260.20" y="386.90" font-size="5.7" text-anchor="middle" fill="#1a1a1a" stroke="#1a1a1a">−5.2</text>
<text x="275.60" y="386.90" font-size="5.7" text-anchor="middle" fill="#1a1a1a" stroke="#1a1a1a">−4.7</text>
<text x="285.20" y="377.00" font-size="5.8" textLength="35" lengthAdjust="spacingAndGlyphs" fill="#1a1a1a" stroke="#1a1a1a">log [ AZA], M</text>
<text x="285.20" y="387.00" font-size="5.8" textLength="35.4" lengthAdjust="spacingAndGlyphs" fill="#1a1a1a" stroke="#1a1a1a">log [ VEN], M</text>
<text x="177.80" y="328.70" font-size="7.4" text-anchor="middle" textLength="42" lengthAdjust="spacingAndGlyphs" font-weight="bold" fill="#3a3a3a" stroke="#3a3a3a" transform="rotate(-90 177.80 328.70)">Cell viability (%)</text>
<polyline points="199.40,319.34 214.60,318.88 229.80,329.05 245.00,351.26 260.20,362.82 275.60,364.67" fill="none" stroke="#4676ab" stroke-width="0.9"/>
<polyline points="199.40,319.34 214.60,317.49 229.80,327.67 245.00,348.02 260.20,362.36 275.60,364.67" fill="none" stroke="#c5264a" stroke-width="0.9"/>
<line x1="214.60" y1="311.01" x2="214.60" y2="323.97" stroke="#c5264a" stroke-width="0.6"/>
<line x1="213.20" y1="311.01" x2="216.00" y2="311.01" stroke="#c5264a" stroke-width="0.6"/>
<line x1="213.20" y1="323.97" x2="216.00" y2="323.97" stroke="#c5264a" stroke-width="0.6"/>
<rect x="198.10" y="318.04" width="2.6" height="2.6" fill="#18355c"/>
<rect x="213.30" y="317.58" width="2.6" height="2.6" fill="#18355c"/>
<rect x="228.50" y="327.75" width="2.6" height="2.6" fill="#18355c"/>
<rect x="243.70" y="349.96" width="2.6" height="2.6" fill="#18355c"/>
<rect x="258.90" y="361.52" width="2.6" height="2.6" fill="#18355c"/>
<rect x="274.30" y="363.37" width="2.6" height="2.6" fill="#18355c"/>
<circle cx="199.40" cy="319.34" r="1.6" fill="#931436"/>
<circle cx="214.60" cy="317.49" r="1.6" fill="#931436"/>
<circle cx="229.80" cy="327.67" r="1.6" fill="#931436"/>
<circle cx="245.00" cy="348.02" r="1.6" fill="#931436"/>
<circle cx="260.20" cy="362.36" r="1.6" fill="#931436"/>
<circle cx="275.60" cy="364.67" r="1.6" fill="#931436"/>
<line x1="261.60" y1="296.00" x2="269.60" y2="296.00" stroke="#d8687c" stroke-width="0.9"/>
<circle cx="265.60" cy="296.00" r="1.5" fill="#9a1834"/>
<text x="272.00" y="298.20" font-size="6.4" textLength="31.3" lengthAdjust="spacingAndGlyphs" fill="#1a1a1a" stroke="#1a1a1a" class="ns">U937-<tspan font-style="italic">Cas9</tspan></text>
<line x1="261.60" y1="306.00" x2="269.60" y2="306.00" stroke="#7d98b8" stroke-width="0.9"/>
<circle cx="265.60" cy="306.00" r="1.5" fill="#16304f"/>
<text x="272.00" y="308.20" font-size="6.4" textLength="48" lengthAdjust="spacingAndGlyphs" fill="#1a1a1a" stroke="#1a1a1a" class="ns">U937-<tspan font-style="italic">SLFN11</tspan>KO</text>
<text x="0" y="0" font-size="10.3" font-weight="bold" fill="#000" style="stroke:#000;stroke-width:0.35px" transform="translate(332.6 277.7) scale(1.08 1)">I</text>
<text x="401.00" y="288.40" font-size="8.5" text-anchor="middle" textLength="44" lengthAdjust="spacingAndGlyphs" fill="#1a1a1a" stroke="#1a1a1a">AraC + AZA</text>
<line x1="361.00" y1="293.20" x2="361.00" y2="368.60" stroke="#111" stroke-width="1.2"/>
<line x1="358.10" y1="365.60" x2="361.00" y2="365.60" stroke="#111" stroke-width="1.0"/>
<text x="354.80" y="368.30" font-size="5.7" text-anchor="end" fill="#2a2a2a" stroke="#2a2a2a">0</text>
<line x1="358.10" y1="354.00" x2="361.00" y2="354.00" stroke="#111" stroke-width="1.0"/>
<text x="354.80" y="356.70" font-size="5.7" text-anchor="end" fill="#2a2a2a" stroke="#2a2a2a">20</text>
<line x1="358.10" y1="342.40" x2="361.00" y2="342.40" stroke="#111" stroke-width="1.0"/>
<text x="354.80" y="345.10" font-size="5.7" text-anchor="end" fill="#2a2a2a" stroke="#2a2a2a">40</text>
<line x1="358.10" y1="330.80" x2="361.00" y2="330.80" stroke="#111" stroke-width="1.0"/>
<text x="354.80" y="333.50" font-size="5.7" text-anchor="end" fill="#2a2a2a" stroke="#2a2a2a">60</text>
<line x1="358.10" y1="319.20" x2="361.00" y2="319.20" stroke="#111" stroke-width="1.0"/>
<text x="354.80" y="321.90" font-size="5.7" text-anchor="end" fill="#2a2a2a" stroke="#2a2a2a">80</text>
<line x1="358.10" y1="307.60" x2="361.00" y2="307.60" stroke="#111" stroke-width="1.0"/>
<text x="354.80" y="310.30" font-size="5.7" text-anchor="end" fill="#2a2a2a" stroke="#2a2a2a">100</text>
<line x1="358.10" y1="296.00" x2="361.00" y2="296.00" stroke="#111" stroke-width="1.0"/>
<text x="354.80" y="298.70" font-size="5.7" text-anchor="end" fill="#2a2a2a" stroke="#2a2a2a">120</text>
<line x1="358.10" y1="365.60" x2="441.00" y2="365.60" stroke="#111" stroke-width="1.2"/>
<line x1="361.40" y1="365.60" x2="361.40" y2="368.40" stroke="#111" stroke-width="1.0"/>
<line x1="376.70" y1="365.60" x2="376.70" y2="368.40" stroke="#111" stroke-width="1.0"/>
<line x1="391.60" y1="365.60" x2="391.60" y2="368.40" stroke="#111" stroke-width="1.0"/>
<line x1="407.50" y1="365.60" x2="407.50" y2="368.40" stroke="#111" stroke-width="1.0"/>
<line x1="422.50" y1="365.60" x2="422.50" y2="368.40" stroke="#111" stroke-width="1.0"/>
<line x1="438.30" y1="365.60" x2="438.30" y2="368.40" stroke="#111" stroke-width="1.0"/>
<text x="361.40" y="376.80" font-size="5.7" text-anchor="middle" fill="#2a2a2a" stroke="#2a2a2a">0</text>
<text x="376.70" y="376.80" font-size="5.7" text-anchor="middle" fill="#2a2a2a" stroke="#2a2a2a">0.1</text>
<text x="391.60" y="376.80" font-size="5.7" text-anchor="middle" fill="#2a2a2a" stroke="#2a2a2a">0.3</text>
<text x="407.50" y="376.80" font-size="5.7" text-anchor="middle" fill="#2a2a2a" stroke="#2a2a2a">1</text>
<text x="422.50" y="376.80" font-size="5.7" text-anchor="middle" fill="#2a2a2a" stroke="#2a2a2a">3</text>
<text x="438.30" y="376.80" font-size="5.7" text-anchor="middle" fill="#2a2a2a" stroke="#2a2a2a">10</text>
<text x="383.50" y="388.00" font-size="7.2" textLength="36.5" lengthAdjust="spacingAndGlyphs" font-weight="bold" fill="#2a2a2a" stroke="#2a2a2a">[AraC], μg/mL</text>
<text x="339.80" y="329.50" font-size="7.4" text-anchor="middle" textLength="41" lengthAdjust="spacingAndGlyphs" font-weight="bold" fill="#3a3a3a" stroke="#3a3a3a" transform="rotate(-90 339.80 329.50)">Cell viability (%)</text>
<polyline points="361.40,308.76 376.70,316.88 391.60,319.20 407.50,324.42 422.50,319.78 438.30,320.94" fill="none" stroke="#4676ab" stroke-width="0.9"/>
<polyline points="361.40,311.66 376.70,319.20 391.60,329.64 407.50,329.64 422.50,333.70 438.30,331.96" fill="none" stroke="#4676ab" stroke-width="0.95" stroke-dasharray="2.6,2.2"/>
<polyline points="361.40,307.60 362.58,309.62 364.16,312.35 366.03,315.61 368.12,319.20 370.32,322.94 372.54,326.63 374.70,330.09 376.70,333.12 378.57,335.86 380.43,338.56 382.27,341.18 384.11,343.67 385.96,346.00 387.81,348.14 389.69,350.05 391.60,351.68 393.55,352.99 395.53,353.99 397.53,354.74 399.54,355.31 401.56,355.74 403.56,356.11 405.55,356.48 407.50,356.90 409.41,357.35 411.29,357.75 413.16,358.11 415.01,358.42 416.86,358.69 418.71,358.91 420.59,359.09 422.50,359.22 424.54,359.28 426.76,359.27 429.06,359.19 431.34,359.07 433.50,358.94 435.44,358.81 437.08,358.70 438.30,358.64" fill="none" stroke="#c5264a" stroke-width="1.05"/>
<polyline points="361.40,320.36 362.58,322.35 364.16,325.13 366.03,328.45 368.12,332.07 370.32,335.75 372.54,339.24 374.70,342.31 376.70,344.72 378.57,346.51 380.43,347.92 382.27,349.03 384.11,349.90 385.96,350.60 387.81,351.18 389.69,351.71 391.60,352.26 393.55,352.73 395.53,353.01 397.53,353.16 399.54,353.24 401.56,353.31 403.56,353.42 405.55,353.63 407.50,354.00 409.41,354.58 411.29,355.33 413.16,356.18 415.01,357.08 416.86,357.96 418.71,358.74 420.59,359.38 422.50,359.80 424.54,359.98 426.76,359.97 429.06,359.82 431.34,359.58 433.50,359.30 435.44,359.01 437.08,358.78 438.30,358.64" fill="none" stroke="#c5264a" stroke-width="0.95" stroke-dasharray="2.6,2.2"/>
<line x1="361.40" y1="309.34" x2="361.40" y2="330.80" stroke="#c5264a" stroke-width="0.6"/>
<line x1="360.00" y1="309.34" x2="362.80" y2="309.34" stroke="#c5264a" stroke-width="0.6"/>
<line x1="360.00" y1="330.80" x2="362.80" y2="330.80" stroke="#c5264a" stroke-width="0.6"/>
<line x1="422.50" y1="316.30" x2="422.50" y2="322.68" stroke="#18355c" stroke-width="0.6"/>
<line x1="421.10" y1="316.30" x2="423.90" y2="316.30" stroke="#18355c" stroke-width="0.6"/>
<line x1="421.10" y1="322.68" x2="423.90" y2="322.68" stroke="#18355c" stroke-width="0.6"/>
<line x1="438.30" y1="318.62" x2="438.30" y2="323.26" stroke="#18355c" stroke-width="0.6"/>
<line x1="436.90" y1="318.62" x2="439.70" y2="318.62" stroke="#18355c" stroke-width="0.6"/>
<line x1="436.90" y1="323.26" x2="439.70" y2="323.26" stroke="#18355c" stroke-width="0.6"/>
<circle cx="361.40" cy="308.76" r="1.6" fill="#18355c"/>
<circle cx="376.70" cy="316.88" r="1.6" fill="#18355c"/>
<circle cx="391.60" cy="319.20" r="1.6" fill="#18355c"/>
<circle cx="407.50" cy="324.42" r="1.6" fill="#18355c"/>
<circle cx="422.50" cy="319.78" r="1.6" fill="#18355c"/>
<circle cx="438.30" cy="320.94" r="1.6" fill="#18355c"/>
<rect x="359.90" y="310.16" width="3.0" height="3.0" fill="#18355c"/>
<rect x="375.20" y="317.70" width="3.0" height="3.0" fill="#18355c"/>
<rect x="390.10" y="328.14" width="3.0" height="3.0" fill="#18355c"/>
<rect x="406.00" y="328.14" width="3.0" height="3.0" fill="#18355c"/>
<rect x="421.00" y="332.20" width="3.0" height="3.0" fill="#18355c"/>
<rect x="436.80" y="330.46" width="3.0" height="3.0" fill="#18355c"/>
<circle cx="361.40" cy="307.60" r="1.6" fill="#931436"/>
<circle cx="376.70" cy="333.12" r="1.6" fill="#931436"/>
<circle cx="391.60" cy="351.68" r="1.6" fill="#931436"/>
<circle cx="407.50" cy="356.90" r="1.6" fill="#931436"/>
<circle cx="422.50" cy="359.22" r="1.6" fill="#931436"/>
<circle cx="438.30" cy="358.64" r="1.6" fill="#931436"/>
<rect x="359.90" y="318.86" width="3.0" height="3.0" fill="#931436"/>
<rect x="375.20" y="343.22" width="3.0" height="3.0" fill="#931436"/>
<rect x="390.10" y="350.76" width="3.0" height="3.0" fill="#931436"/>
<rect x="406.00" y="352.50" width="3.0" height="3.0" fill="#931436"/>
<rect x="421.00" y="358.30" width="3.0" height="3.0" fill="#931436"/>
<rect x="436.80" y="357.14" width="3.0" height="3.0" fill="#931436"/>
<text x="391.60" y="318.60" font-size="5.0" text-anchor="middle" fill="#1a1a1a" stroke="#1a1a1a">*</text>
<text x="423.00" y="316.00" font-size="5.0" text-anchor="middle" textLength="6.0" lengthAdjust="spacingAndGlyphs" fill="#1a1a1a" stroke="#1a1a1a">***</text>
<text x="438.30" y="317.80" font-size="5.0" text-anchor="middle" textLength="4.2" lengthAdjust="spacingAndGlyphs" fill="#1a1a1a" stroke="#1a1a1a">**</text>
<line x1="447.00" y1="301.00" x2="455.00" y2="301.00" stroke="#d8687c" stroke-width="0.9"/>
<circle cx="451.00" cy="301.00" r="1.5" fill="#9a1834"/>
<text x="457.80" y="303.40" font-size="6.1" textLength="30.6" lengthAdjust="spacingAndGlyphs" fill="#1a1a1a" stroke="#1a1a1a" class="ns">U937-<tspan font-style="italic">Cas9</tspan></text>
<line x1="447.00" y1="310.60" x2="455.00" y2="310.60" stroke="#d8687c" stroke-width="0.9" stroke-dasharray="2,1.6"/>
<rect x="449.65" y="309.25" width="2.7" height="2.7" fill="#9a1834"/>
<text x="457.80" y="312.80" font-size="6.1" textLength="35.6" lengthAdjust="spacingAndGlyphs" fill="#1a1a1a" stroke="#1a1a1a" class="ns">U937-<tspan font-style="italic">Cas9</tspan> +</text>
<text x="458.30" y="320.30" font-size="6.1" textLength="22.6" lengthAdjust="spacingAndGlyphs" fill="#1a1a1a" stroke="#1a1a1a" class="ns">1μM Aza</text>
<line x1="447.00" y1="327.80" x2="455.00" y2="327.80" stroke="#7d98b8" stroke-width="0.9"/>
<circle cx="451.00" cy="327.80" r="1.5" fill="#16304f"/>
<text x="458.30" y="330.10" font-size="6.1" textLength="46.5" lengthAdjust="spacingAndGlyphs" fill="#1a1a1a" stroke="#1a1a1a" class="ns">U937-<tspan font-style="italic">SLFN11</tspan>KO</text>
<line x1="447.00" y1="337.80" x2="455.00" y2="337.80" stroke="#7d98b8" stroke-width="0.9" stroke-dasharray="2,1.6"/>
<rect x="449.65" y="336.45" width="2.7" height="2.7" fill="#16304f"/>
<text x="458.30" y="340.30" font-size="6.1" textLength="51.8" lengthAdjust="spacingAndGlyphs" fill="#1a1a1a" stroke="#1a1a1a" class="ns">U937-<tspan font-style="italic">SLFN11</tspan>KO +</text>
<text x="458.30" y="347.30" font-size="6.1" textLength="22.6" lengthAdjust="spacingAndGlyphs" fill="#1a1a1a" stroke="#1a1a1a" class="ns">1μM Aza</text>
<path d="M498.6,299.4 H502.6 V311.2 H498.6" fill="none" stroke="#222" stroke-width="1.2"/>
<text x="505.00" y="307.40" font-size="6.3" fill="#1a1a1a" stroke="#1a1a1a" class="ns">NS</text>
</svg>
<div class="fr"></div>
</body></html>
